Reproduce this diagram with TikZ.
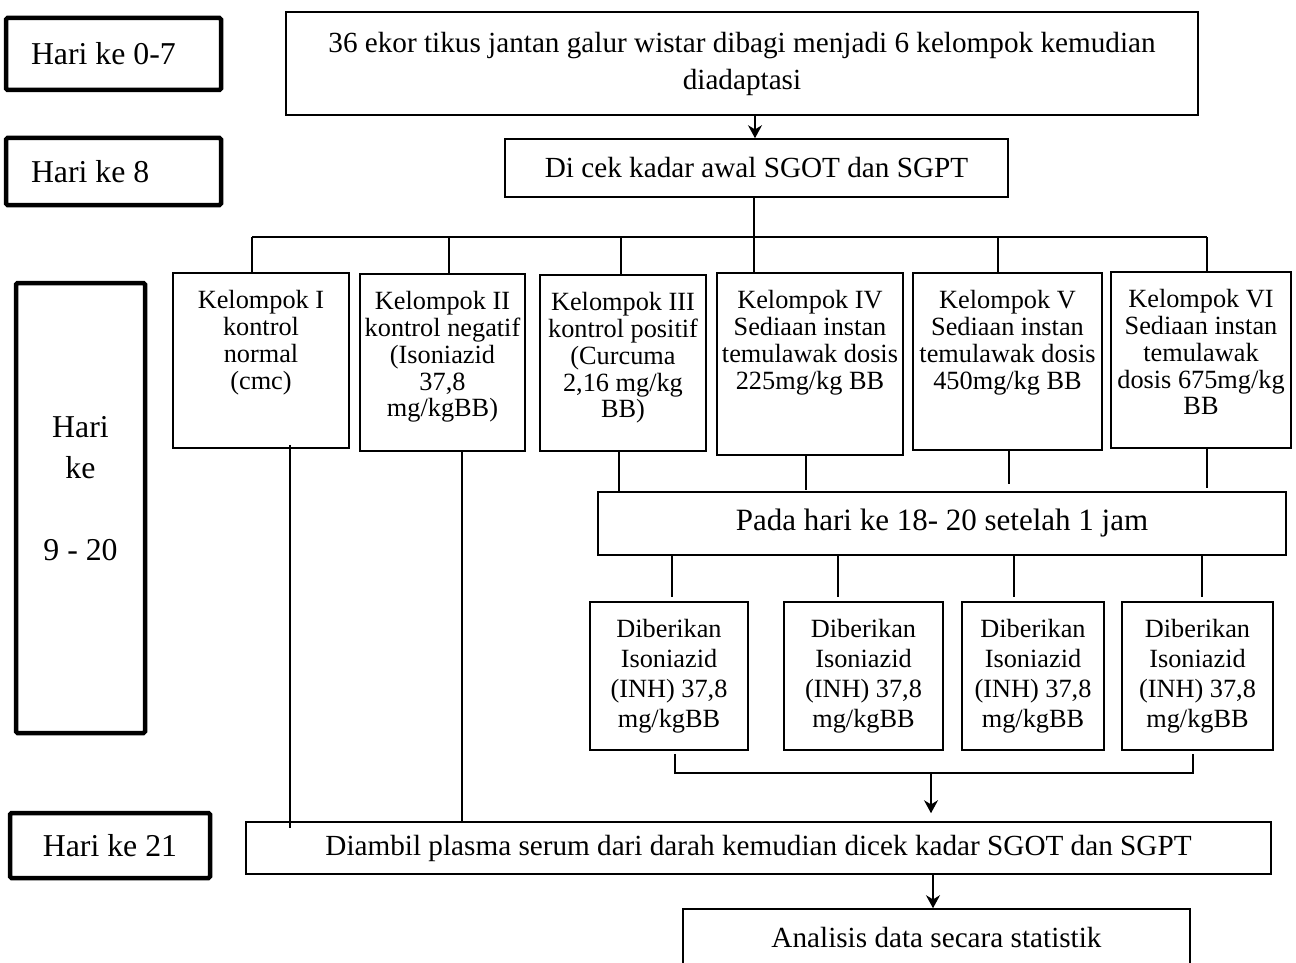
\documentclass[tikz,border=0pt]{standalone}
\usepackage{fontspec}
\setmainfont{Liberation Serif}
\usetikzlibrary{arrows.meta}
\tikzset{>={Stealth[length=13pt,width=14pt]}}
\tikzstyle{box}=[draw, line width=1.6pt, inner sep=0pt, align=center]
\tikzstyle{day box}=[draw, line width=4.5pt, inner sep=0pt, rounded corners=1.5pt]
\tikzstyle{link}=[line width=1.6pt]
\tikzstyle{big text}=[font=\fontsize{29.2pt}{37pt}\selectfont]
\tikzstyle{pada text}=[font=\fontsize{31pt}{37pt}\selectfont]
\tikzstyle{day text}=[font=\fontsize{31.8pt}{41pt}\selectfont]
\tikzstyle{grp text}=[font=\fontsize{26.3pt}{26.8pt}\selectfont, align=center, anchor=north, inner sep=0pt]
\tikzstyle{dose text}=[font=\fontsize{26.3pt}{30pt}\selectfont]

\begin{document}
\begin{tikzpicture}[x=1pt,y=-1pt]
  \useasboundingbox (0,0) rectangle (1296,963);

  % DAYS
  \node[day box, day text, minimum width=215pt, minimum height=72pt,
        inner xsep=25pt] (hari07) at (113.5,54) {\makebox[165pt][l]{Hari ke 0-7}};
  \node[day box, day text, minimum width=215pt, minimum height=67pt,
        inner xsep=25pt] (hari8) at (113.5,171.5) {\makebox[165pt][l]{Hari ke 8}};
  \node[day box, minimum width=129pt, minimum height=450pt] (hari920) at (80.5,508) {};
  \node[day text, align=center, inner sep=0pt] (hari920txt) at (80.5,489) {Hari\\ke\\[41pt]9 - 20};
  \node[day box, day text, minimum width=200pt, minimum height=65pt] (hari21) at (110,845.5) {Hari ke 21};

  % START
  \node[box, big text, minimum width=912pt, minimum height=103pt] (adapt) at (742,63.5)
      {36 ekor tikus jantan galur wistar dibagi menjadi 6 kelompok kemudian\\diadaptasi};
  \node[box, big text, minimum width=503pt, minimum height=58pt] (cek) at (756.5,168)
      {Di cek kadar awal SGOT dan SGPT};
  \draw[link,->] (adapt.south -| 755,0) -- (cek.north -| 755,0);

  % GROUPS
  \node[box, minimum width=176pt, minimum height=175pt] (k1) at (261,360.5) {};
  \node[box, minimum width=165pt, minimum height=177pt] (k2) at (442.5,362.5) {};
  \node[box, minimum width=166pt, minimum height=176pt] (k3) at (623,363) {};
  \node[box, minimum width=186pt, minimum height=182pt] (k4) at (810,364) {};
  \node[box, minimum width=189pt, minimum height=177pt] (k5) at (1007.5,361.5) {};
  \node[box, minimum width=180pt, minimum height=176pt] (k6) at (1201,360) {};
  \node[grp text] (k1txt) at ([yshift=-18pt]k1.north) {Kelompok I\\kontrol\\normal\\(cmc)};
  \node[grp text] (k2txt) at ([yshift=-18pt]k2.north) {Kelompok II\\kontrol negatif\\(Isoniazid\\37,8\\mg/kgBB)};
  \node[grp text] (k3txt) at ([yshift=-18pt]k3.north) {Kelompok III\\kontrol positif\\(Curcuma\\2,16 mg/kg\\BB)};
  \node[grp text] (k4txt) at ([yshift=-18pt]k4.north) {Kelompok IV\\Sediaan instan\\temulawak dosis\\225mg/kg BB};
  \node[grp text] (k5txt) at ([yshift=-18pt]k5.north) {Kelompok V\\Sediaan instan\\temulawak dosis\\450mg/kg BB};
  \node[grp text] (k6txt) at ([yshift=-18pt]k6.north) {Kelompok VI\\Sediaan instan\\temulawak\\dosis 675mg/kg\\BB};

  \coordinate (b1) at (252,237);
  \coordinate (b2) at (449,237);
  \coordinate (b3) at (621,237);
  \coordinate (b4) at (754,237);
  \coordinate (b5) at (998,237);
  \coordinate (b6) at (1207,237);
  \draw[link] (b1) -- (b6);
  \draw[link] (b4 |- cek.south) -- (b4 |- k4.north);
  \foreach \b/\k in {b1/k1,b2/k2,b3/k3,b5/k5,b6/k6}
    \draw[link] (\b) -- (\b |- \k.north);

  % INDUCTION
  \node[box, pada text, minimum width=688pt, minimum height=63pt] (pada) at (942,523.5)
      {Pada hari ke 18- 20 setelah 1 jam};
  \draw[link] (k3.south -| 619,0) -- (pada.north -| 619,0);
  \draw[link] (k4.south -| 806,0) -- ++(0,34);
  \draw[link] (k5.south -| 1009,0) -- ++(0,33);
  \draw[link] (k6.south -| 1207,0) -- ++(0,39);

  \node[box, dose text, minimum width=158pt, minimum height=148pt] (d1) at (669,676)
      {Diberikan\\Isoniazid\\(INH) 37,8\\mg/kgBB};
  \node[box, dose text, minimum width=159pt, minimum height=148pt] (d2) at (863.5,676)
      {Diberikan\\Isoniazid\\(INH) 37,8\\mg/kgBB};
  \node[box, dose text, minimum width=142pt, minimum height=148pt] (d3) at (1033,676)
      {Diberikan\\Isoniazid\\(INH) 37,8\\mg/kgBB};
  \node[box, dose text, minimum width=151pt, minimum height=148pt] (d4) at (1197.5,676)
      {Diberikan\\Isoniazid\\(INH) 37,8\\mg/kgBB};
  \foreach \x/\d in {672/d1,838/d2,1014/d3,1202/d4}
    \draw[link] (pada.south -| \x,0) -- ([yshift=4pt]\d.north -| \x,0);

  % END
  \node[box, big text, minimum width=1025pt, minimum height=52pt] (diambil) at (758.5,848)
      {Diambil plasma serum dari darah kemudian dicek kadar SGOT dan SGPT};
  \node[box, big text, minimum width=507pt, minimum height=58pt] (analisis) at (936.5,938)
      {Analisis data secara statistik};

  \coordinate (jl) at (675,773);
  \coordinate (jr) at (1193,773);
  \coordinate (jm) at (931,773);
  \draw[link] ([yshift=-3pt]jl |- d1.south) -- (jl) -- (jr) -- ([yshift=-3pt]jr |- d4.south);
  \draw[link,->,shorten >=8pt] (jm) -- (jm |- diambil.north);
  \draw[link,->] (diambil.south -| 933,0) -- (analisis.north -| 933,0);

  \draw[link] ([yshift=4pt]k1.south -| 290,0) -- ([yshift=-7pt]diambil.north -| 290,0);
  \draw[link] (k2.south -| 462,0) -- (diambil.north -| 462,0);
\end{tikzpicture}
\end{document}
